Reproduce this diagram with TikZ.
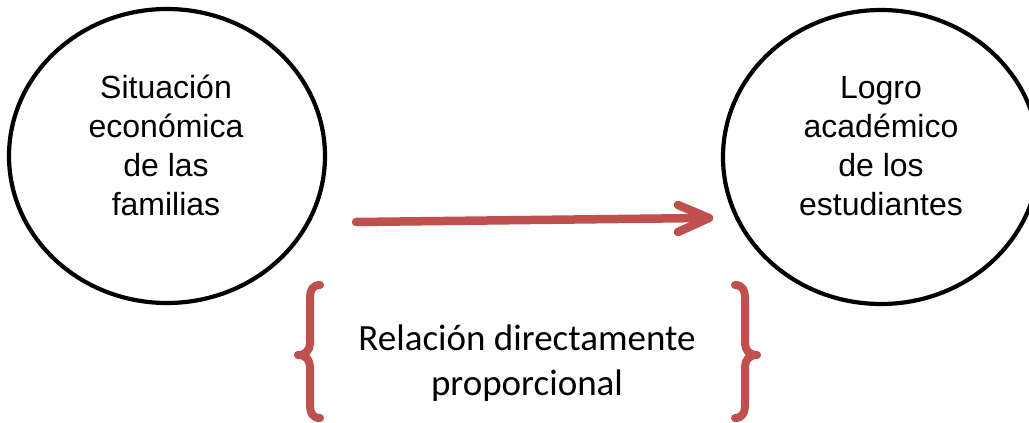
\documentclass[tikz,border=0pt]{standalone}
\usepackage{fontspec}
\usetikzlibrary{shapes.geometric,calc}
\setmainfont{Liberation Sans}
\newfontfamily\calfont{Carlito}
\definecolor{accent}{HTML}{C0504D}
\begin{document}
\begin{tikzpicture}[x=1pt,y=-1pt,
  ell/.style={draw=black,line width=4.2pt,ellipse,minimum width=316pt,minimum height=294pt,inner sep=0pt},
  ctext/.style={align=center,font=\fontsize{32}{39}\selectfont,inner sep=0pt},
  btext/.style={align=center,font=\calfont\fontsize{37}{45}\selectfont,inner sep=0pt},
  redline/.style={draw=accent,line width=8.5pt,line cap=round,line join=round},
  brace/.style={draw=accent,line width=8pt,line cap=round,line join=round}]
\useasboundingbox (0,0) rectangle (1029,423);
\node[ell] (L) at (167,156) {};
\node[ell] (R) at (881,157) {};
\node[ctext] (Lt) at (166,145) {Situación\\económica\\de las\\familias};
\node[ctext] (Rt) at (881,146) {Logro\\académico\\de los\\estudiantes};
\coordinate (as) at (356,222);
\coordinate (ae) at (709,218);
\draw[redline] (as) -- ($(ae)+(-4,0)$);
\draw[redline] ($(ae)+(-31,-13)$) -- (ae) -- ($(ae)+(-31,14)$);
\node[btext] (Bt) at (527,363) {Relación directamente\\proporcional};
\draw[brace] (320,285) .. controls (313,285) and (310,290) .. (310,297) -- (310,343)
  .. controls (310,350) and (306,355) .. (298,355)
  .. controls (306,355) and (310,360) .. (310,367) -- (310,406)
  .. controls (310,413) and (313,418) .. (320,418);
\draw[brace] (735,285) .. controls (742,285) and (745,290) .. (745,297) -- (745,343)
  .. controls (745,350) and (749,355) .. (757,355)
  .. controls (749,355) and (745,360) .. (745,367) -- (745,406)
  .. controls (745,413) and (742,418) .. (735,418);
\end{tikzpicture}
\end{document}
